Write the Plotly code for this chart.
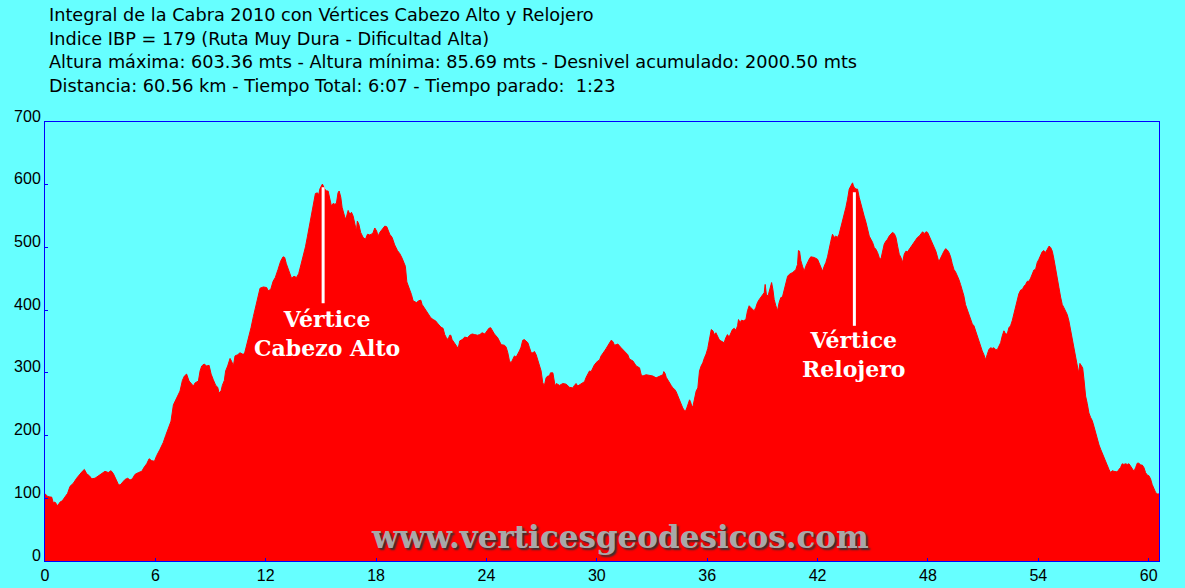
import plotly.graph_objects as go

# ---- Profile data (distance km, elevation m) ----
dist_a = [0.00,0.15,0.27,0.36,0.45,0.54,0.69,0.82,0.94,1.09,1.23,1.36,1.54,1.72,1.90,2.03,2.14,2.27,2.41,2.54,
          2.72,2.90,3.08,3.26,3.44,3.59,3.72,3.84,3.99,4.08,4.21,4.35,4.50,4.62,4.75,4.89,5.08,5.26,5.40,5.53,
          5.66,5.80,5.95,6.07,6.25,6.43,6.56,6.71,6.85,6.98,7.11,7.25,7.34,7.47,7.58,7.70,7.83,7.98,8.07,8.16,
          8.34,8.43,8.52,8.65,8.79,8.92,9.03,9.15,9.28,9.39,9.46,9.57,9.64,9.75,9.82,9.93,10.06,10.15,10.24,10.33,
          10.48,10.60,10.73,10.84,10.97,11.09,11.20,11.33,11.46,11.56,11.69,11.87,12.05]
elev_a = [107,103,102,102,93,94,88,94,96,102,108,119,124,132,139,143,146,139,136,131,
          132,136,139,143,141,144,139,131,122,121,126,130,132,129,131,138,141,143,150,155,
          163,160,159,168,178,189,200,213,223,249,257,265,271,288,295,298,287,282,279,284,
          287,303,311,314,311,312,298,289,280,277,268,271,280,288,303,311,323,318,311,327,
          329,332,330,330,345,356,372,390,406,420,435,437,436]

dist_b = [12.13,12.27,12.40,12.52,12.67,12.81,12.94,13.03,13.12,13.25,13.40,13.54,13.67,13.79,13.90,14.03,14.16,14.27,14.39,14.52,
          14.63,14.70,14.81,14.88,14.94,15.03,15.08,15.21,15.30,15.39,15.48,15.57,15.66,15.75,15.84,15.93,15.99,16.08,16.15,16.26,
          16.33,16.40,16.48,16.57,16.66,16.75,16.84,16.93,16.98,17.06,17.16,17.29,17.42,17.53,17.65,17.75,17.84,17.93,18.03,18.11,
          18.20,18.32,18.47,18.58,18.65,18.74,18.87,19.01,19.16,19.29,19.41,19.52,19.59,19.67,19.74,19.83,19.92,20.01,20.19,20.32,
          20.43,20.50,20.61,20.74,20.86,20.97,21.10,21.23,21.37,21.52,21.64,21.73,21.82,21.91,22.00,22.06,22.13,22.24,22.37,22.46,
          22.55,22.68,22.82,22.97,23.09,23.22,23.36,23.51,23.64,23.76,23.91,24.05,24.13,24.23]
elev_b = [431,433,446,452,465,478,485,484,474,462,451,454,452,458,470,486,501,518,536,556,
          574,586,587,584,593,597,601,593,590,590,577,566,570,569,570,587,590,580,564,550,
          545,550,559,553,556,550,540,526,542,537,524,516,513,521,520,521,524,531,526,518,
          524,529,534,533,527,521,516,504,495,490,483,476,470,445,440,433,425,415,412,415,
          416,409,404,400,393,388,385,383,378,373,371,361,356,353,360,360,353,348,343,339,
          351,353,357,356,360,362,361,360,361,364,362,367,371,372]

dist_c = [24.43,24.61,24.80,24.98,25.07,25.16,25.25,25.34,25.43,25.52,25.61,25.70,25.79,25.88,25.97,26.06,26.15,26.25,26.34,26.43,
          26.52,26.61,26.70,26.79,26.88,26.97,27.06,27.15,27.24,27.33,27.42,27.48,27.61,27.66,27.73,27.80,27.97,28.15,28.33,28.51,
          28.69,28.78,28.87,28.96,29.15,29.33,29.42,29.51,29.60,29.69,29.78,29.87,30.05,30.14,30.23,30.32,30.42,30.51,30.60,30.69,
          30.78,30.87,30.96,31.05,31.14,31.32,31.50,31.68,31.77,31.96,32.14,32.32,32.41,32.50,32.68,32.86,33.04,33.22,33.41,33.59,
          33.64,33.71,33.77,33.86,33.95,34.04,34.13,34.22,34.31,34.40,34.49,34.58,34.67,34.76,34.82,34.89,34.95,35.04,35.09,35.16,
          35.22,35.31,35.40,35.49,35.58,35.67,35.76,35.85,35.94,36.03,36.12,36.22,36.31]
elev_c = [362,356,345,344,341,332,319,316,321,327,325,329,335,341,352,353,350,348,340,332,
          332,334,329,321,311,303,284,280,292,295,295,300,300,290,279,283,280,283,282,277,
          276,280,283,279,283,286,293,297,303,302,307,313,319,320,327,332,335,339,343,348,
          352,350,344,345,346,340,335,329,322,319,311,308,297,295,297,296,295,292,295,297,
          302,299,293,288,284,280,276,274,270,263,258,250,244,240,239,244,250,257,254,247,
          246,258,271,276,303,311,316,324,330,339,355,369,367]

dist_d = [36.38,36.47,36.56,36.65,36.74,36.92,37.01,37.10,37.19,37.28,37.37,37.47,37.56,37.65,37.70,37.79,37.86,37.97,38.10,38.19,
          38.28,38.37,38.46,38.55,38.64,38.73,38.83,38.92,39.01,39.10,39.15,39.22,39.31,39.42,39.50,39.57,39.64,39.73,39.82,39.91,
          40.00,40.09,40.18,40.28,40.37,40.46,40.55,40.64,40.73,40.82,40.91,40.96,41.02,41.09,41.18,41.27,41.36,41.45,41.54,41.63,
          41.82,42.00,42.09,42.18,42.27,42.36,42.45,42.54,42.63,42.72,42.81,42.90,42.99,43.08,43.17,43.27,43.36,43.45,43.54,43.63,
          43.72,43.81,43.86,43.90,43.95,44.03,44.12,44.17,44.26,44.35,44.44,44.53,44.63,44.72,44.81,44.90,44.99,45.08,45.17,45.26,
          45.35,45.44,45.53,45.62,45.71,45.80,45.89,45.98,46.07,46.17,46.26,46.35,46.44,46.53,46.62,46.71,46.80,46.89,46.98,47.07,
          47.16,47.25,47.34,47.43,47.53,47.62,47.71,47.80,47.89,47.98,48.07,48.16,48.25,48.34,48.43]
elev_d = [361,364,359,353,351,348,356,361,357,364,369,371,368,375,385,380,384,383,385,399,
          407,404,401,399,404,412,417,421,424,428,441,424,423,433,444,433,417,407,399,412,
          420,421,433,444,454,457,458,460,462,465,473,495,494,479,470,462,470,477,481,485,
          484,481,474,468,462,470,476,485,501,510,521,516,518,516,521,532,542,553,564,577,
          593,598,601,603,598,594,593,593,580,569,558,550,540,529,518,513,508,500,497,492,
          484,481,492,505,510,513,518,521,524,522,516,502,489,484,476,489,494,493,497,500,
          504,508,513,516,518,521,525,522,525,524,518,513,505,500,494]

dist_e = [48.59,48.69,48.78,48.87,48.96,49.05,49.14,49.23,49.32,49.41,49.50,49.59,49.68,49.77,49.86,49.95,50.04,50.14,50.23,50.32,
          50.41,50.50,50.59,50.68,50.77,50.86,50.95,51.04,51.13,51.22,51.31,51.40,51.50,51.59,51.68,51.77,51.86,51.95,52.04,52.13,
          52.22,52.31,52.40,52.49,52.58,52.67,52.76,52.85,52.94,53.04,53.13,53.22,53.31,53.40,53.49,53.58,53.67,53.76,53.85,53.94,
          54.03,54.12,54.21,54.30,54.39,54.49,54.58,54.67,54.76,54.85,54.94,55.03,55.12,55.21,55.30,55.39,55.48,55.57,55.66,55.75,
          55.85,55.94,56.03,56.12,56.19,56.26,56.33,56.41,56.48,56.57,56.66,56.75,56.84,56.93,57.02,57.11,57.20,57.30,57.39,57.48,
          57.57,57.66,57.75,57.84,57.93,58.02,58.11,58.20,58.29,58.38,58.47,58.56,58.65,58.74,58.84,58.93,59.02,59.11,59.20,59.29,
          59.38,59.47,59.56,59.65,59.74,59.83,59.92,60.01,60.10,60.19,60.29,60.38,60.47,60.56]
elev_e = [477,484,489,494,498,496,492,485,474,465,461,456,449,441,433,423,409,400,393,385,
          378,375,367,357,351,341,335,329,321,329,337,340,339,340,337,337,343,348,359,367,
          362,362,372,375,383,393,407,417,426,432,433,438,441,446,446,451,457,464,465,476,
          481,488,493,495,492,497,502,500,494,481,464,448,436,421,409,404,399,393,383,369,
          356,343,327,313,300,315,311,308,290,263,251,236,229,224,215,204,194,185,178,171,
          166,160,151,146,141,144,143,142,142,146,149,155,154,155,154,155,151,146,143,149,
          156,156,153,153,149,141,137,136,131,122,114,109,107,107]

for d, e in [(dist_a, elev_a), (dist_b, elev_b), (dist_c, elev_c), (dist_d, elev_d), (dist_e, elev_e)]:
    assert len(d) == len(e), (len(d), len(e))

dist_km = dist_a + dist_b + dist_c + dist_d + dist_e
elev_m = elev_a + elev_b + elev_c + elev_d + elev_e

# Vertices marked on the profile
vertex_labels = ["Vértice<br>Cabezo Alto", "Vértice<br>Relojero"]
vertex_km = [15.12, 44.0]
vertex_line_top = [596, 588]
vertex_line_bottom = [411, 375]
vertex_label_km = [15.33, 44.0]
vertex_label_elev = [362, 329]

title_lines = [
    "Integral de la Cabra 2010 con Vértices Cabezo Alto y Relojero",
    "Indice IBP = 179 (Ruta Muy Dura - Dificultad Alta)",
    "Altura máxima: 603.36 mts - Altura mínima: 85.69 mts - Desnivel acumulado: 2000.50 mts",
    "Distancia: 60.56 km - Tiempo Total: 6:07 - Tiempo parado:  1:23",
]
x_ticks = [0, 6, 12, 18, 24, 30, 36, 42, 48, 54, 60]
y_ticks = [0, 100, 200, 300, 400, 500, 600, 700]
x_max = 60.56
y_max = 700

BG = "#66FFFF"
RED = "#FF0000"
BLUE = "#0000FF"

fig = go.Figure()
fig.add_trace(go.Scatter(
    x=dist_km, y=elev_m, mode="lines", fill="tozeroy",
    fillcolor=RED, line=dict(color=RED, width=1), hoverinfo="skip", showlegend=False,
))
for k, top, bot in zip(vertex_km, vertex_line_top, vertex_line_bottom):
    fig.add_trace(go.Scatter(
        x=[k, k], y=[bot, top], mode="lines",
        line=dict(color="white", width=3), hoverinfo="skip", showlegend=False,
    ))

annotations = []
for lab, lk, le in zip(vertex_labels, vertex_label_km, vertex_label_elev):
    annotations.append(dict(
        x=lk, y=le, xref="x", yref="y", text="<b>" + lab.replace("<br>", "</b><br><b>") + "</b>",
        showarrow=False, align="center",
        font=dict(family="DejaVu Serif", size=22, color="white"),
    ))

title_y_px = [15, 39, 62, 86]
plot_top, plot_bottom = 122, 561
for line, ypx in zip(title_lines, title_y_px):
    annotations.append(dict(
        x=0.0015, y=(plot_bottom - ypx) / (plot_bottom - plot_top), xref="paper", yref="paper",
        text=line, showarrow=False, xanchor="left", yanchor="middle",
        font=dict(family="DejaVu Sans", size=17.7, color="black"),
    ))

annotations.append(dict(
    x=0.516, y=0.055, xref="paper", yref="paper", text="<b>www.verticesgeodesicos.com</b>",
    showarrow=False, xanchor="center", yanchor="middle",
    font=dict(family="DejaVu Serif", size=31, color="#a8a8a8", shadow="2px 2px 2px #303030"),
))

fig.update_layout(
    width=1185, height=588,
    margin=dict(l=45, r=26, t=122, b=27, pad=0, autoexpand=False),
    paper_bgcolor=BG, plot_bgcolor=BG,
    annotations=annotations,
    showlegend=False,
)
fig.update_xaxes(
    range=[0, x_max], tickvals=x_ticks, ticktext=[str(v) for v in x_ticks],
    showgrid=False, zeroline=False, showline=True, mirror=True, linecolor=BLUE, linewidth=1,
    ticks="inside", ticklen=3, tickcolor=BLUE, automargin=False,
    tickfont=dict(family="Liberation Sans", size=16, color="black"),
)
fig.update_yaxes(
    range=[0, y_max], tickvals=y_ticks, ticktext=[str(v) for v in y_ticks],
    showgrid=False, zeroline=False, showline=True, mirror=True, linecolor=BLUE, linewidth=1,
    ticks="inside", ticklen=3, tickcolor=BLUE, ticklabelshift=-6, ticklabelstandoff=0,
    automargin=False,
    tickfont=dict(family="Liberation Sans", size=16, color="black"),
)

page_css = (
    "document.body.style.margin='0';"
    "document.body.style.padding='0';"
    "document.body.style.background='" + BG + "';"
    "document.body.style.overflow='hidden';"
)
fig.write_html("out.html", post_script=page_css, config={"displayModeBar": False})
